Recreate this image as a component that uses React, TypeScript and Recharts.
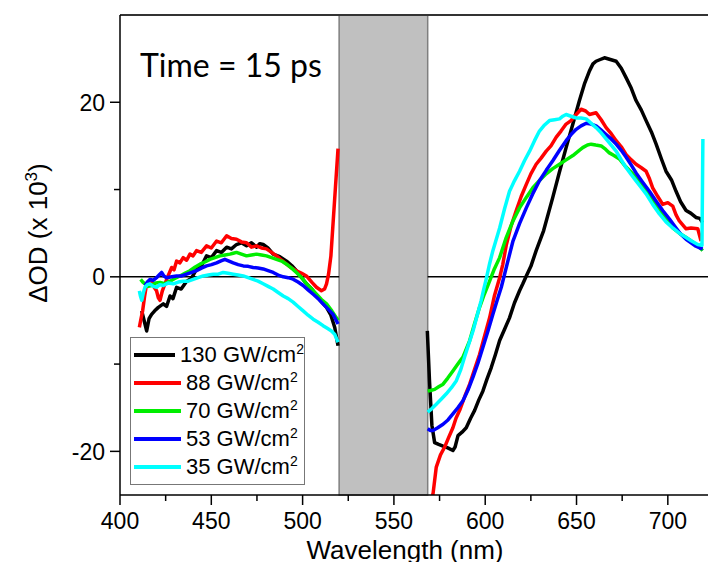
import { Legend, Line, LineChart, ReferenceArea, ReferenceLine, XAxis, YAxis } from "recharts"

// wavelength (nm), ΔOD (x 10^3)
const blackLeft: [number, number][] = [
  [411.9, -3.9], [413.2, -5.0], [414.6, -6.2], [415.9, -4.8], [417.3, -4.3], [419, -3.9], [421, -3.5], [423.7, -3.1],
  [425.5, -3.4], [427.4, -2.2], [429, -2.5], [431, -1.2], [433.5, -1.4], [436.5, -0.5], [439, -0.2], [442, 0.9],
  [444.5, 1.2], [447.4, 2.4], [450, 2.2], [452.9, 3.0], [455.5, 2.8], [458.4, 3.4], [461, 3.2], [463.8, 3.7],
  [466.5, 3.9], [469.3, 3.55], [472, 3.9], [474.8, 3.4], [476.5, 3.8], [478.4, 3.7], [481, 3.3], [483.9, 2.6],
  [487.5, 2.3], [491.2, 1.8], [494, 1.3], [496.6, 0.7], [499.5, -0.1], [502.1, -0.8], [505, -1.4], [507.6, -2.2],
  [510.5, -2.9], [513.1, -3.5], [515.5, -4.4], [517.6, -5.8], [519.4, -7.9],
]
const blackRight: [number, number][] = [
  [568.3, -6.2], [569.5, -12], [570.8, -17], [572.3, -19], [574.5, -19.2], [576.9, -19.4], [579.5, -19.6],
  [582.3, -19.9], [583.5, -19.5], [585.1, -18.2], [587.3, -17.8], [589.6, -17.3], [592, -16.2], [594.2, -15.3],
  [596.5, -14.1], [598.7, -13.1], [601, -11.7], [603.3, -10.4], [605.6, -8.9], [607.9, -7.3], [610.6, -6.0],
  [613.3, -4.7], [616, -3.0], [618.8, -1.6], [620.6, -0.8], [622.5, 0.1], [625, 1.2], [627.9, 3.0], [632, 5.3],
  [637, 9.1], [640.5, 11.9], [644.3, 14.8], [648, 17.5], [651.6, 20.2], [654.5, 22.2], [657.1, 23.6], [659, 24.4],
  [660.7, 24.7], [663, 24.9], [665.3, 25.1], [668.5, 24.9], [671.7, 24.7], [674.5, 23.9], [677.2, 22.8],
  [680, 21.6], [682.6, 20.2], [685.5, 19.1], [688.1, 17.9], [691, 16.6], [693.6, 15.2], [696.5, 13.5], [699, 12.1],
  [702, 11.1], [704.5, 9.8], [707, 8.6], [710, 7.6], [712.5, 7.3], [715.4, 6.8], [717.5, 6.7], [719.1, 6.2],
]

const redLeft: [number, number][] = [
  [410.6, -5.8], [411.5, -4.8], [412.4, -3.9], [413.5, -2.2], [414.6, -0.8], [416, -0.6], [417.3, -0.5],
  [418.7, -1.2], [420, -1.6], [421, -2.4], [421.9, -2.7], [423.2, -1.6], [424.6, -0.8], [426.5, 0.2], [428.3, 1.07],
  [429.6, 0.8], [431, 1.8], [432.8, 1.6], [434.6, 2.2], [436.5, 1.9], [438.3, 2.6], [440, 2.4], [441.9, 3.0],
  [444.5, 2.8], [447.4, 3.55], [450, 3.3], [452.9, 4.1], [455.5, 3.9], [458.4, 4.7], [461, 4.4], [463.8, 4.3],
  [466.5, 4.0], [469.3, 3.9], [472, 3.4], [474.8, 3.55], [477.5, 3.3], [480.2, 3.2], [483, 2.8], [485.7, 2.4],
  [488.5, 1.9], [491.2, 1.45], [494, 1.0], [496.6, 0.7], [499.5, 0.4], [502.1, 0.1], [505, -0.6], [507.6, -1.2],
  [510.3, -1.6], [512, -1.4], [513.1, -0.8], [514.2, 0.3], [515.5, 2.4], [516.7, 6.2], [518, 10.3], [519.4, 14.7],
]
const redRight: [number, number][] = [
  [569.6, -27], [571.4, -24.9], [573.2, -21.8], [575.5, -20.4], [577.8, -19.5], [580, -18.4], [582.3, -17.3],
  [584, -16.2], [586, -15.3], [589, -13.6], [591.5, -12.3], [594, -10.7], [596.9, -8.9], [599.5, -6.9],
  [602.4, -4.7], [605, -2.2], [607.9, -0.1], [609.6, 1.4], [611.5, 3.6], [614, 5.7], [617, 7.6], [619.7, 9.2],
  [622.5, 10.6], [625, 11.8], [627.9, 12.9], [630.6, 13.6], [633.4, 14.4], [636, 15.0], [638.9, 16.0],
  [641.5, 16.7], [644.3, 17.5], [647, 17.9], [649.8, 18.6], [652.5, 19.2], [655, 19.0], [657.1, 18.6],
  [660.7, 18.8], [663.5, 18.0], [666.2, 17.1], [669, 16.4], [671.7, 15.6], [674.5, 14.9], [677.2, 14.0],
  [680, 13.4], [682.6, 12.9], [685.5, 12.5], [688.1, 12.1], [690, 11.2], [691.7, 10.2], [694.5, 9.2],
  [697.2, 8.3], [700, 8.5], [702.7, 8.1], [704.5, 7.1], [706.3, 6.4], [710, 5.5], [712.7, 5.6], [716.4, 5.5],
  [718.2, 4.1],
]

const greenLeft: [number, number][] = [
  [411.3, -0.3], [412.5, -0.6], [413.7, -0.8], [415.5, -1.1], [417.3, -1.0], [419.5, -0.7], [421.9, -0.65],
  [424.5, -0.8], [427.4, -0.5], [430, -0.2], [432.8, 0.1], [435.5, 0.4], [438.3, 0.7], [441, 1.1], [443.8, 1.45],
  [446.5, 1.7], [449.2, 2.0], [452, 2.2], [454.7, 2.4], [457.5, 2.5], [460.2, 2.6], [462, 2.7], [463.8, 2.8],
  [466.5, 2.6], [469.3, 2.4], [472, 2.5], [474.8, 2.6], [477.5, 2.5], [480.2, 2.4], [483, 2.2], [485.7, 2.0],
  [488.5, 1.8], [491.2, 1.45], [494, 1.0], [496.6, 0.5], [499.5, -0.1], [502.1, -0.8], [505, -1.4],
  [507.6, -2.0], [510.3, -2.6], [513.1, -3.1], [516, -3.9], [518.5, -4.7], [519.5, -5.0],
]
const greenRight: [number, number][] = [
  [568.5, -13.1], [570.5, -13.0], [572.3, -12.9], [574.5, -12.6], [576.9, -12.3], [579.5, -11.6], [582.3, -10.8],
  [585, -10.0], [587.8, -9.2], [589.6, -8.3], [591.5, -7.3], [594, -5.5], [596.9, -3.5], [599.5, -2.0],
  [602.4, -0.5], [605, 0.9], [607.9, 2.2], [611.5, 4.5], [615, 6.3], [618.8, 7.9], [622.5, 9.1], [626.1, 10.2],
  [630, 11.1], [633.4, 11.8], [637, 12.4], [640.7, 12.9], [644.3, 13.4], [648, 13.9], [651, 14.4], [653.4, 14.8],
  [656, 15.1], [658, 15.2], [660.5, 15.1], [663.5, 15.0], [666, 14.6], [668, 14.2], [670.5, 13.9], [673.5, 13.5],
  [677, 12.6], [680.8, 11.8], [684.5, 10.8], [688.1, 9.8], [691.7, 8.7], [695.4, 7.6], [699, 6.6], [702.7, 5.6],
  [706.3, 5.0], [710, 4.5], [713.6, 4.0], [717.3, 3.4], [719.1, 3.0],
]

const blueLeft: [number, number][] = [
  [413.7, -1.0], [415, -0.6], [416.4, -0.3], [418.2, -0.4], [420, -0.1], [421.4, 0.2], [422.8, 0.5], [424, 0.1],
  [425.5, -0.1], [428.3, 0.0], [431, 0.1], [433.8, 0.1], [436.5, 0.3], [439.2, 0.5], [441.9, 0.7], [444.6, 1.0],
  [447.4, 1.25], [450.1, 1.4], [452.9, 1.6], [455, 1.8], [457.4, 2.0], [459.7, 1.8], [462, 1.6], [464.7, 1.4],
  [467.5, 1.25], [470.2, 1.2], [472.9, 1.07], [475.6, 1.0], [478.4, 0.9], [481.1, 0.7], [483.9, 0.5],
  [486.6, 0.2], [489.4, 0.0], [492.1, -0.1], [494.8, -0.27], [497.5, -0.6], [500.3, -1.0], [503, -1.5],
  [505.8, -2.0], [508.5, -2.5], [511.2, -3.1], [514, -3.7], [516.7, -4.3], [519.4, -5.4],
]
const blueRight: [number, number][] = [
  [568.5, -17.4], [570, -17.6], [571.4, -17.6], [574, -17.3], [576.9, -16.9], [579.6, -16.4], [582.3, -15.7],
  [585, -15.0], [587.8, -14.2], [590.5, -13.0], [593.3, -11.5], [596, -9.9], [598.7, -8.1], [601.5, -6.2],
  [604.2, -4.3], [606.5, -2.7], [608.8, -1.2], [610.6, 0.3], [612.4, 1.8], [615.2, 4.1], [618.8, 6.1],
  [622.5, 7.9], [626, 9.5], [629.7, 11.0], [633.4, 12.2], [637, 13.3], [640.7, 14.5], [644.3, 15.6], [647, 16.3],
  [649.8, 16.9], [652.5, 17.3], [655.3, 17.6], [658, 17.5], [660.7, 17.3], [663.5, 16.8], [666.2, 16.3],
  [669, 15.8], [671.7, 15.2], [674.5, 14.5], [677.2, 13.7], [680, 12.8], [682.6, 11.9], [686, 10.9], [689.9, 9.8],
  [693.5, 8.7], [697.2, 7.6], [701, 6.6], [704.5, 5.6], [707, 4.9], [710, 4.3], [712.7, 3.9], [715.4, 3.5],
  [717.5, 3.3], [719.1, 3.2],
]

const cyanLeft: [number, number][] = [
  [410.6, -1.6], [411.2, -2.2], [411.9, -2.7], [412.8, -1.8], [413.7, -1.2], [415, -0.9], [416.4, -0.8],
  [418.2, -1.1], [420, -1.2], [421.8, -0.9], [423.7, -1.0], [426.5, -0.7], [429.2, -0.8], [431.9, -0.6],
  [434.6, -0.5], [437.4, -0.5], [440.1, -0.3], [442.8, -0.1], [445.6, 0.1], [448.3, 0.2], [451.1, 0.3],
  [453.8, 0.3], [456.5, 0.5], [459.2, 0.4], [462, 0.3], [464.7, 0.2], [467.5, 0.1], [470.2, -0.1], [472.9, -0.3],
  [475.6, -0.5], [478.4, -0.8], [481.1, -1.1], [483.9, -1.4], [486.6, -1.8], [489.4, -2.2], [492.1, -2.5],
  [494.8, -2.9], [497.5, -3.4], [500.3, -3.9], [503, -4.4], [505.8, -4.85], [508.5, -5.2], [511.2, -5.6],
  [513.5, -5.9], [515.8, -6.2], [517.6, -6.6], [519.4, -7.5],
]
const cyanRight: [number, number][] = [
  [568.5, -15.5], [570.8, -15.1], [573.2, -14.6], [576, -14.0], [578.7, -13.4], [581.5, -12.7], [584.2, -11.9],
  [586.5, -10.7], [588.7, -9.2], [591, -7.7], [593.3, -6.2], [595.5, -4.5], [597.8, -2.7], [599.2, -1.4],
  [600.6, -0.2], [602.4, 1.5], [604.2, 3.0], [607.9, 5.6], [610.6, 7.8], [613.3, 9.8], [616, 11.0], [618.8, 12.1],
  [621.5, 13.3], [624.3, 14.4], [627, 15.6], [629.7, 16.7], [632.5, 17.4], [635.2, 17.9], [638, 18.0],
  [640.7, 18.1], [642.5, 18.4], [644.3, 18.6], [647, 18.4], [649.8, 18.2], [652.5, 18.2], [655.3, 18.1],
  [658, 17.6], [660.7, 17.1], [663.5, 16.5], [666.2, 15.8], [669, 15.1], [671.7, 14.4], [674.5, 13.4],
  [677.2, 12.5], [680, 11.7], [682.6, 11.0], [685.5, 10.2], [688.1, 9.5], [691.7, 8.3], [695.4, 7.2], [699, 6.3],
  [702.7, 5.6], [706.3, 5.0], [710, 4.5], [713, 4.1], [716.4, 3.7], [718.7, 3.6], [719.2, 15.8],
]

const fluences = ["130", "88", "70", "53", "35"]
const colors = ["#000000", "#ff0000", "#00ee00", "#0000ff", "#00ffff"]
const xTicks = [400, 425, 450, 475, 500, 525, 550, 575, 600, 625, 650, 675, 700]
const yTicks = [-20, -10, 0, 10, 20]
const maskedBand = [520, 568.5]

const FONT = "'Liberation Sans', Arial, sans-serif"

// left part, break, right part (the grey band hides the gap)
function join(left: [number, number][], right: [number, number][]) {
  return [
    ...left.map(([x, y]) => ({ x, y })),
    { x: (maskedBand[0] + maskedBand[1]) / 2, y: null },
    ...right.map(([x, y]) => ({ x, y })),
  ]
}

const series = [
  join(blackLeft, blackRight),
  join(redLeft, redRight),
  join(greenLeft, greenRight),
  join(blueLeft, blueRight),
  join(cyanLeft, cyanRight),
]

function YTick(props: any) {
  const { x, y, payload } = props
  const major = payload.value % 20 === 0
  const len = major ? 10 : 6
  return (
    <g>
      <line x1={x - len} x2={x} y1={y} y2={y} stroke="#000" strokeWidth={1.5} />
      {major && (
        <text x={x - len - 5} y={y} dy="0.36em" textAnchor="end" fontSize={23} fontFamily={FONT} fill="#000">
          {payload.value}
        </text>
      )}
    </g>
  )
}

function XTick(props: any) {
  const { x, y, payload } = props
  const major = payload.value % 50 === 0
  const len = major ? 10 : 6
  return (
    <g>
      <line x1={x} x2={x} y1={y} y2={y + len} stroke="#000" strokeWidth={1.5} />
      {major && (
        <text x={x} y={y + 34} textAnchor="middle" fontSize={23} fontFamily={FONT} fill="#000">
          {payload.value}
        </text>
      )}
    </g>
  )
}

function LegendBox() {
  return (
    <div
      style={{
        border: "1px solid #777",
        background: "#fff",
        padding: "3px 0 3px 3px",
        fontFamily: FONT,
        fontSize: 22,
        lineHeight: "28px",
        width: 170,
      }}
    >
      {fluences.map((f, i) => (
        <div key={f} style={{ display: "flex", alignItems: "center", whiteSpace: "nowrap" }}>
          <span style={{ display: "inline-block", width: 47, height: 4, background: colors[i], marginRight: 5 }} />
          <span>
            {f} GW/cm<sup style={{ fontSize: 14, lineHeight: 0 }}>2</sup>
          </span>
        </div>
      ))}
    </div>
  )
}

export default function App() {
  return (
    <div style={{ position: "absolute", left: 0, top: 0, width: 708, height: 562, background: "#fff" }}>
      <LineChart width={708} height={562} margin={{ top: 15, right: 0, bottom: 0, left: 0 }}>
        <XAxis
          type="number"
          dataKey="x"
          domain={[400, 722]}
          ticks={xTicks}
          interval={0}
          allowDataOverflow
          height={67}
          tickSize={0}
          tickMargin={0}
          tickLine={false}
          tick={<XTick />}
          axisLine={{ stroke: "#000", strokeWidth: 1.5 }}
        />
        <YAxis
          type="number"
          dataKey="y"
          domain={[-25, 30]}
          ticks={yTicks}
          interval={0}
          allowDataOverflow
          width={120}
          tickSize={0}
          tickMargin={0}
          tickLine={false}
          tick={<YTick />}
          axisLine={{ stroke: "#000", strokeWidth: 1.5 }}
        />
        <ReferenceLine y={30} stroke="#333" strokeWidth={2} />
        <ReferenceLine
          segment={[{ x: 400, y: 0 }, { x: maskedBand[0], y: 0 }]}
          stroke="#000"
          strokeWidth={1.5}
        />
        <ReferenceLine
          segment={[{ x: maskedBand[1], y: 0 }, { x: 722, y: 0 }]}
          stroke="#000"
          strokeWidth={1.5}
        />
        {series.map((data, i) => (
          <Line
            key={fluences[i]}
            data={data}
            dataKey="y"
            name={`${fluences[i]} GW/cm2`}
            type="linear"
            stroke={colors[i]}
            strokeWidth={3.5}
            strokeLinejoin="round"
            dot={false}
            activeDot={false}
            connectNulls={false}
            isAnimationActive={false}
          />
        ))}
        <ReferenceArea
          x1={maskedBand[0]}
          x2={maskedBand[1]}
          y1={-25}
          y2={30}
          fill="#c0c0c0"
          fillOpacity={1}
          stroke="#7f7f7f"
          strokeWidth={1.5}
        />
        <Legend
          layout="vertical"
          align="center"
          verticalAlign="middle"
          content={<LegendBox />}
          wrapperStyle={{ left: 130, top: 337, width: 174, height: 143 }}
        />
      </LineChart>
      <svg
        width={708}
        height={562}
        style={{ position: "absolute", left: 0, top: 0, pointerEvents: "none" }}
      >
        <text x={140} y={77} fontSize={32} fontFamily="Lato, 'Open Sans', sans-serif" fill="#000">
          Time = 15 ps
        </text>
        <text
          x={0}
          y={0}
          transform="translate(47 233) rotate(-90)"
          textAnchor="middle"
          fontSize={26}
          fontFamily={FONT}
          fill="#000"
        >
          ΔOD (x 10<tspan dy={-10} fontSize={17}>3</tspan>
          <tspan dy={10}>)</tspan>
        </text>
        <text x={405} y={559} textAnchor="middle" fontSize={26} fontFamily={FONT} fill="#000">
          Wavelength (nm)
        </text>
      </svg>
    </div>
  )
}
